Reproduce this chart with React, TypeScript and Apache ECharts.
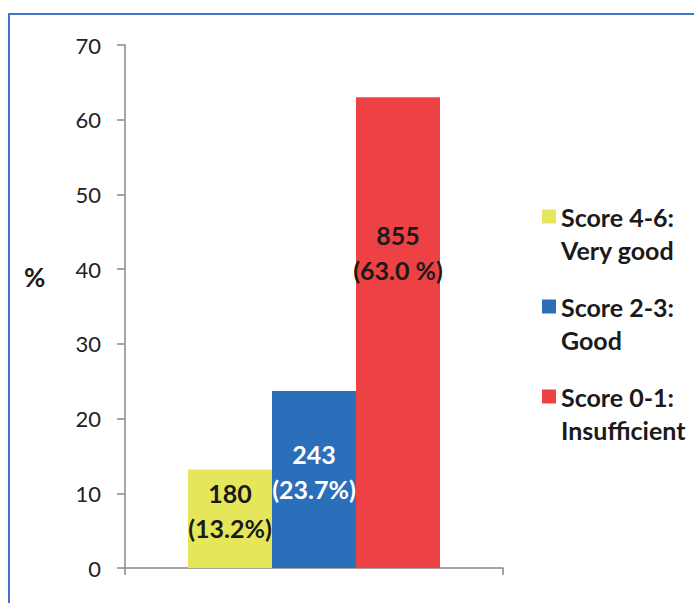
import React, { useEffect, useRef } from "react";
import * as echarts from "echarts";

const categories = [""];
const seriesNames = ["Score 4-6:\nVery good", "Score 2-3:\nGood", "Score 0-1:\nInsufficient"];
const percentValues = [13.2, 23.7, 63.0];
const counts = [180, 243, 855];
const percentLabels = ["(13.2%)", "(23.7%)", "(63.0 %)"];
const colors = ["#E6E65A", "#2B6FBA", "#EE4143"];
const labelColors = ["#1a1a1a", "#ffffff", "#1a1a1a"];
const yAxisName = "%";
const yMin = 0;
const yMax = 70;
const yInterval = 10;

const FONT = "Lato, 'Open Sans', sans-serif";

export default function App() {
  const ref = useRef<HTMLDivElement>(null);
  useEffect(() => {
    if (!ref.current) return;
    const chart = echarts.init(ref.current, null, { renderer: "svg" });
    const labelPos: any[] = [
      { position: "inside", offset: [0, -8] },
      { position: "inside", offset: [0, -8] },
      { position: "insideTop", offset: [0, 115] },
    ];
    chart.setOption({
      animation: false,
      backgroundColor: "#ffffff",
      textStyle: { fontFamily: FONT },
      graphic: [
        {
          type: "rect",
          shape: { x: 9, y: 14, width: 720, height: 640 },
          style: { fill: "none", stroke: "#4472C4", lineWidth: 2 },
          silent: true,
        },
        {
          type: "text",
          left: 24,
          top: 264,
          style: {
            text: yAxisName,
            fontFamily: FONT,
            fontSize: 26,
            fontWeight: "bold",
            fill: "#1a1a1a",
          },
          silent: true,
        },
      ],
      grid: { left: 125, right: 191, top: 45, bottom: 35, containLabel: false },
      legend: {
        orient: "vertical",
        left: 542,
        top: 167,
        padding: 0,
        itemWidth: 14,
        itemHeight: 14,
        itemGap: -9,
        icon: "rect",
        selectedMode: false,
        data: seriesNames,
        formatter: (name: string) => "\n" + name,
        textStyle: {
          fontFamily: FONT,
          fontWeight: "bold",
          fontSize: 25,
          color: "#1a1a1a",
          lineHeight: 33,
        },
      },
      xAxis: {
        type: "category",
        data: categories,
        axisLine: { show: true, lineStyle: { color: "#888888", width: 1.5 } },
        axisTick: { show: true, length: 7, alignWithLabel: false, lineStyle: { color: "#888888", width: 1.5 } },
        axisLabel: { show: false },
        splitLine: { show: false },
      },
      yAxis: {
        type: "value",
        min: yMin,
        max: yMax,
        interval: yInterval,
        axisLine: { show: true, lineStyle: { color: "#888888", width: 1.5 } },
        axisTick: { show: true, length: 8, lineStyle: { color: "#888888", width: 1.5 } },
        axisLabel: { fontFamily: FONT, fontSize: 22, color: "#222222", margin: 24 },
        splitLine: { show: false },
      },
      series: seriesNames.map((name, i) => ({
        name,
        type: "bar",
        data: [percentValues[i]],
        barWidth: 84,
        barGap: "0%",
        itemStyle: { color: colors[i] },
        label: {
          show: true,
          ...labelPos[i],
          formatter: () => `${counts[i]}\n${percentLabels[i]}`,
          color: labelColors[i],
          fontFamily: FONT,
          fontWeight: "bold",
          fontSize: 25,
          lineHeight: 35,
          align: "center",
        },
      })),
    });
    return () => chart.dispose();
  }, []);
  return (
    <div
      ref={ref}
      style={{ position: "fixed", left: 0, top: 0, width: 694, height: 603 }}
    />
  );
}
